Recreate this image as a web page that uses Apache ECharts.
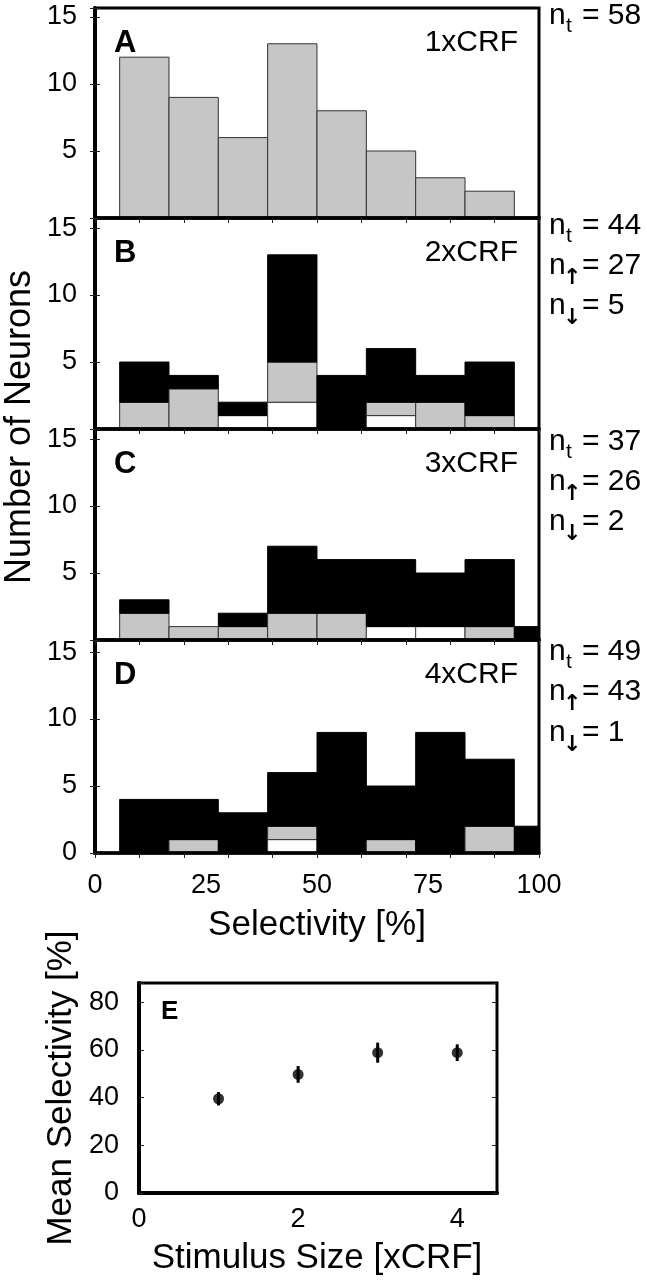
<!DOCTYPE html>
<html><head><meta charset="utf-8">
<script src="https://cdn.jsdelivr.net/npm/echarts@6/dist/echarts.min.js"></script>
<style>html,body{margin:0;padding:0;background:#fff}#c{width:647px;height:1280px}</style>
</head><body><div id="c"></div>
<script>
// ---------- data ----------
const binCenters = [11.11, 22.22, 33.33, 44.44, 55.56, 66.67, 77.78, 88.89, 100];
const binWidth = 11.11;

const grayA  = [12, 9, 6, 13, 8, 5, 3, 2, 0];

const whiteB = [0, 0, 1, 2, 0, 1, 0, 0, 0];
const grayB  = [2, 3, 0, 3, 0, 1, 2, 1, 0];
const blackB = [3, 1, 1, 8, 4, 4, 2, 4, 0];

const whiteC = [0, 0, 0, 0, 0, 1, 1, 0, 0];
const grayC  = [2, 1, 1, 2, 2, 0, 0, 1, 0];
const blackC = [1, 0, 1, 5, 4, 5, 4, 5, 1];

const whiteD = [0, 0, 0, 1, 0, 0, 0, 0, 0];
const grayD  = [0, 1, 0, 1, 0, 1, 0, 2, 0];
const blackD = [4, 3, 3, 4, 9, 4, 9, 5, 2];

const panelLetters = ['A', 'B', 'C', 'D'];
const panelSizes = ['1xCRF', '2xCRF', '3xCRF', '4xCRF'];
const nTotal = [58, 44, 37, 49];
const nUp = [null, 27, 26, 43];
const nDown = [null, 5, 2, 1];

const stimSize = [1, 2, 3, 4];
const meanSel = [39.5, 49.7, 58.8, 58.8];
const errSel = [2.8, 3.5, 4.2, 3.5];

// ---------- layout ----------
const FONT = '"Liberation Sans", Arial, Helvetica, sans-serif';
const panelTop = [8, 218, 429, 640];
const panelH = [210, 211, 211, 213];
const panelYMax = [15.67, 15.75, 15.75, 15.9];
const nLineY = [[16], [226, 266, 306], [442, 482, 522], [652, 692, 733]];
const fills = ['#ffffff', '#c6c6c6', '#000000'];
const strokes = ['#444444', '#333333', '#000000'];

function buildStack(layers) {
  const out = [];
  for (let k = 0; k < binCenters.length; k++) {
    let base = 0;
    layers.forEach((arr, t) => {
      const v = arr ? arr[k] : 0;
      if (v > 0) {
        out.push([binCenters[k] - binWidth / 2, binCenters[k] + binWidth / 2, base, base + v, t]);
        base += v;
      }
    });
  }
  return out;
}
const panelData = [
  buildStack([null, grayA, null]),
  buildStack([whiteB, grayB, blackB]),
  buildStack([whiteC, grayC, blackC]),
  buildStack([whiteD, grayD, blackD])
];

function renderBin(params, api) {
  const x0 = api.value(0), x1 = api.value(1), y0 = api.value(2), y1 = api.value(3), t = api.value(4);
  const p0 = api.coord([x0, y1]);
  const p1 = api.coord([x1, y0]);
  const cs = params.coordSys;
  const shape = echarts.graphic.clipRectByRect(
    { x: p0[0], y: p0[1], width: p1[0] - p0[0], height: p1[1] - p0[1] },
    { x: cs.x, y: cs.y, width: cs.width, height: cs.height });
  if (!shape) return;
  return { type: 'rect', shape: shape, style: { fill: fills[t], stroke: strokes[t], lineWidth: 1 } };
}

const grid = [], xAxis = [], yAxis = [], series = [], graphic = [];
for (let i = 0; i < 4; i++) {
  grid.push({ left: 95, width: 444, top: panelTop[i], height: panelH[i], show: true,
    borderColor: '#000', borderWidth: 3, backgroundColor: 'transparent', z: 10 });
  xAxis.push({ gridIndex: i, type: 'value', min: 0, max: 100, interval: 25, position: 'bottom',
    axisLine: { show: true, lineStyle: { color: '#000', width: 3.5 } },
    axisTick: { show: false }, splitLine: { show: false },
    axisLabel: { show: i === 3, fontSize: 27, color: '#000', fontFamily: FONT, margin: 19 }, z: 10 });
  xAxis.push({ gridIndex: i, type: 'value', min: 0, max: 100, interval: 10, position: 'top',
    axisLine: { show: false },
    axisTick: { show: true, inside: true, length: 5, lineStyle: { color: '#222', width: 1 } },
    axisLabel: { show: false }, splitLine: { show: false }, z: 10 });
  yAxis.push({ gridIndex: i, type: 'value', min: 0, max: panelYMax[i], interval: 5, position: 'left',
    axisLine: { show: true, lineStyle: { color: '#000', width: 4 } },
    axisTick: { show: true, inside: true, length: 5, lineStyle: { color: '#222', width: 1 } },
    splitLine: { show: false },
    axisLabel: { fontSize: 27, color: '#000', fontFamily: FONT, margin: 18,
      formatter: (v) => (Math.abs(v % 5) < 1e-9 && (v > 0 || i === 3)) ? String(v) : '' }, z: 10 });
  yAxis.push({ gridIndex: i, type: 'value', min: 0, max: panelYMax[i], interval: 5, position: 'right',
    axisLine: { show: false },
    axisTick: { show: true, inside: true, length: 5, lineStyle: { color: '#222', width: 1 } },
    axisLabel: { show: false }, splitLine: { show: false }, z: 10 });
  series.push({ type: 'custom', xAxisIndex: 2 * i, yAxisIndex: 2 * i, renderItem: renderBin,
    encode: { x: [0, 1], y: [2, 3] }, data: panelData[i], silent: true, animation: false });

  const cy = panelTop[i] + 35;
  graphic.push({ type: 'text', x: 114, y: cy, style: { text: panelLetters[i], font: 'bold 31px ' + FONT, fill: '#000', align: 'left', verticalAlign: 'middle' } });
  graphic.push({ type: 'text', x: 518, y: cy, style: { text: panelSizes[i], font: '30px ' + FONT, fill: '#000', align: 'right', verticalAlign: 'middle' } });

  const lines = [['t', nTotal[i]]];
  if (nUp[i] !== null) lines.push(['\u2191', nUp[i]]);
  if (nDown[i] !== null) lines.push(['\u2193', nDown[i]]);
  lines.forEach((ln, j) => {
    const y = nLineY[i][j];
    graphic.push({ type: 'text', x: 549, y: y, style: { text: 'n', font: '30px ' + FONT, fill: '#000', align: 'left', verticalAlign: 'middle' } });
    const isArrow = ln[0] !== 't';
    graphic.push({ type: 'text', x: isArrow ? 563 : 566, y: y + (isArrow ? 12 : 10), style: { text: ln[0], font: (isArrow ? 'bold 22px "DejaVu Sans", ' : '21px ') + FONT, fill: '#000', align: 'left', verticalAlign: 'middle' } });
    graphic.push({ type: 'text', x: 582, y: y, style: { text: '= ' + ln[1], font: '30px ' + FONT, fill: '#000', align: 'left', verticalAlign: 'middle' } });
  });
}

// panel E
grid.push({ left: 139, width: 358, top: 983, height: 210, show: true, borderColor: '#000', borderWidth: 3, backgroundColor: 'transparent', z: 10 });
xAxis.push({ gridIndex: 4, type: 'value', min: 0, max: 4.5, interval: 2, position: 'bottom',
  axisLine: { show: true, lineStyle: { color: '#000', width: 4 } },
  axisTick: { show: false }, splitLine: { show: false },
  axisLabel: { fontSize: 27, color: '#000', fontFamily: FONT, margin: 13,
    formatter: (v) => (Math.abs(v % 2) < 1e-9) ? String(v) : '' }, z: 10 });
yAxis.push({ gridIndex: 4, type: 'value', min: 0, max: 88, interval: 20, position: 'left',
  axisLine: { show: true, lineStyle: { color: '#000', width: 4 } },
  axisTick: { show: true, inside: true, length: 5, lineStyle: { color: '#222', width: 1 } },
  splitLine: { show: false },
  axisLabel: { fontSize: 27, color: '#000', fontFamily: FONT, margin: 20,
    formatter: (v) => (Math.abs(v % 20) < 1e-9) ? String(v) : '' }, z: 10 });
yAxis.push({ gridIndex: 4, type: 'value', min: 0, max: 88, interval: 20, position: 'right',
  axisLine: { show: false },
  axisTick: { show: true, inside: true, length: 5, lineStyle: { color: '#222', width: 1 } },
  axisLabel: { show: false }, splitLine: { show: false }, z: 10 });
const eData = stimSize.map((s, k) => [s, meanSel[k], errSel[k]]);
series.push({ type: 'custom', xAxisIndex: 8, yAxisIndex: 8, data: eData, silent: true, animation: false,
  encode: { x: 0, y: 1 },
  renderItem: (params, api) => {
    const x = api.value(0), m = api.value(1), e = api.value(2);
    const a = api.coord([x, m - e]), b = api.coord([x, m + e]);
    return { type: 'line', shape: { x1: a[0], y1: a[1], x2: b[0], y2: b[1] }, style: { stroke: '#000', lineWidth: 3 } };
  } });
series.push({ type: 'scatter', xAxisIndex: 8, yAxisIndex: 8, data: stimSize.map((s, k) => [s, meanSel[k]]),
  symbol: 'circle', symbolSize: 11, itemStyle: { color: '#000' }, silent: true, animation: false, z: 5 });

graphic.push({ type: 'text', x: 161, y: 1012, style: { text: 'E', font: 'bold 26px ' + FONT, fill: '#000', align: 'left', verticalAlign: 'middle' } });

// axis titles
graphic.push({ type: 'text', x: 317, y: 925, style: { text: 'Selectivity [%]', font: '35px ' + FONT, fill: '#000', align: 'center', verticalAlign: 'middle' } });
graphic.push({ type: 'text', x: 317, y: 1258, style: { text: 'Stimulus Size [xCRF]', font: '35px ' + FONT, fill: '#000', align: 'center', verticalAlign: 'middle' } });
graphic.push({ type: 'text', x: 20, y: 427, rotation: Math.PI / 2, style: { text: 'Number of Neurons', font: '36px ' + FONT, fill: '#000', align: 'center', verticalAlign: 'middle' } });
graphic.push({ type: 'text', x: 61, y: 1088, rotation: Math.PI / 2, style: { text: 'Mean Selectivity [%]', font: '35px ' + FONT, fill: '#000', align: 'center', verticalAlign: 'middle' } });

const chart = echarts.init(document.getElementById('c'), null, { renderer: 'canvas' });
chart.setOption({
  animation: false,
  backgroundColor: '#fff',
  textStyle: { fontFamily: FONT },
  grid: grid, xAxis: xAxis, yAxis: yAxis, series: series, graphic: graphic
});
</script>
</body></html>
